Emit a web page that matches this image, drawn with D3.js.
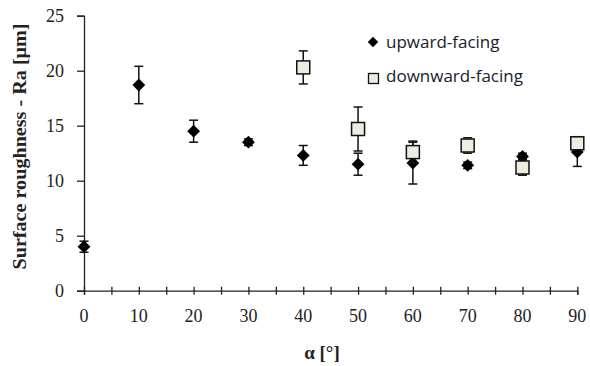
<!DOCTYPE html>
<html>
<head>
<meta charset="utf-8">
<script src="https://cdn.jsdelivr.net/npm/d3@7"></script>
<style>
  html, body { margin: 0; padding: 0; background: #fff; }
  svg { display: block; }
</style>
</head>
<body>
<svg id="chart" width="590" height="366"></svg>
<script>
// Inclination angle (degrees) for each measurement
const upAngles = [0, 10, 20, 30, 40, 50, 60, 70, 80, 90];
const upRa     = [4.0, 18.7, 14.5, 13.5, 12.3, 11.5, 11.6, 11.4, 12.2, 12.6];
const upErr    = [0.5, 1.7, 1.0, 0.3, 0.9, 1.0, 1.9, 0.3, 0.3, 1.3];

const downAngles = [40, 50, 60, 70, 80, 90];
const downRa     = [20.3, 14.7, 12.6, 13.2, 11.2, 13.4];
const downErr    = [1.5, 2.0, 1.0, 0.7, 0.7, 0.6];

const xTicks = [0, 10, 20, 30, 40, 50, 60, 70, 80, 90];
const xMinorTicks = d3.range(0, 91, 5);
const yTicks = [0, 5, 10, 15, 20, 25];

const seriesNames = ["upward-facing", "downward-facing"];

const svg = d3.select("#chart");
const x = d3.scaleLinear().domain([0, 90]).range([84, 577.3]);
const y = d3.scaleLinear().domain([0, 25]).range([290.7, 15.7]);

const serif = "'Liberation Serif', 'Times New Roman', serif";
const sans = "'Open Sans', Lato, sans-serif";
const ink = "#222";

// Y axis
const yAxis = svg.append("g")
  .attr("transform", `translate(${x(0)},0)`)
  .call(d3.axisLeft(y).tickValues(yTicks).tickSize(7).tickPadding(13));
yAxis.select(".domain").attr("stroke", ink).attr("stroke-width", 1.3);
yAxis.selectAll(".tick line").attr("stroke", ink).attr("stroke-width", 1.3);
yAxis.selectAll("text").attr("font-family", serif).attr("font-size", 18).attr("fill", ink);

// X axis: ticks every 5 crossing the line, labels every 10
const xAxis = svg.append("g")
  .attr("transform", `translate(0,${y(0)})`)
  .call(d3.axisBottom(x).tickValues(xMinorTicks).tickSize(4).tickFormat(""));
xAxis.select(".domain").attr("stroke", ink).attr("stroke-width", 1.3);
xAxis.selectAll(".tick line").attr("stroke", ink).attr("stroke-width", 1.3).attr("y1", -4);

svg.append("g").selectAll("text").data(xTicks).join("text")
  .attr("x", d => x(d))
  .attr("y", y(0) + 31)
  .attr("text-anchor", "middle")
  .attr("font-family", serif).attr("font-size", 18).attr("fill", ink)
  .text(d => d);

// Axis titles
svg.append("text")
  .attr("transform", `translate(19.5,146.5) rotate(-90)`)
  .attr("text-anchor", "middle")
  .attr("dominant-baseline", "central")
  .attr("textLength", 246).attr("lengthAdjust", "spacingAndGlyphs")
  .attr("font-family", serif).attr("font-weight", "bold").attr("font-size", 19).attr("fill", ink)
  .text("Surface roughness - Ra [μm]");

svg.append("text")
  .attr("x", 322)
  .attr("y", 359)
  .attr("text-anchor", "middle")
  .attr("font-family", serif).attr("font-weight", "bold").attr("font-size", 19).attr("fill", ink)
  .text("α [°]");

// Error bars with caps
function errorBars(g, xs, vals, errs) {
  const capW = 4.5;
  xs.forEach((a, i) => {
    const cx = x(a), top = y(vals[i] + errs[i]), bot = y(vals[i] - errs[i]);
    g.append("line").attr("x1", cx).attr("x2", cx).attr("y1", top).attr("y2", bot);
    g.append("line").attr("x1", cx - capW).attr("x2", cx + capW).attr("y1", top).attr("y2", top);
    g.append("line").attr("x1", cx - capW).attr("x2", cx + capW).attr("y1", bot).attr("y2", bot);
  });
  g.attr("stroke", "#111").attr("stroke-width", 1.5);
}

const diamond = d3.symbol().type(d3.symbolDiamond2).size(105);

// Upward-facing series
const upG = svg.append("g");
errorBars(upG.append("g"), upAngles, upRa, upErr);
upG.append("g").selectAll("path").data(upAngles).join("path")
  .attr("d", diamond)
  .attr("transform", (d, i) => `translate(${x(d)},${y(upRa[i])})`)
  .attr("fill", "#000");

// Downward-facing series
const downG = svg.append("g");
errorBars(downG.append("g"), downAngles, downRa, downErr);
const sq = 13;
downG.append("g").selectAll("rect").data(downAngles).join("rect")
  .attr("x", d => x(d) - sq / 2)
  .attr("y", (d, i) => y(downRa[i]) - sq / 2)
  .attr("width", sq).attr("height", sq)
  .attr("fill", "#EEECE1").attr("stroke", "#111").attr("stroke-width", 1.5);

// Legend
const legend = svg.append("g");
legend.append("path").attr("d", d3.symbol().type(d3.symbolDiamond2).size(70))
  .attr("transform", "translate(373,42)").attr("fill", "#000");
legend.append("rect").attr("x", 368.5).attr("y", 73.5).attr("width", 10).attr("height", 10)
  .attr("fill", "#EEECE1").attr("stroke", "#111").attr("stroke-width", 1.3);
legend.selectAll("text").data(seriesNames).join("text")
  .attr("x", 386)
  .attr("y", (d, i) => 48 + i * 34)
  .attr("font-family", sans).attr("font-size", 17).attr("fill", "#1a1a2a")
  .text(d => d);
</script>
</body>
</html>
